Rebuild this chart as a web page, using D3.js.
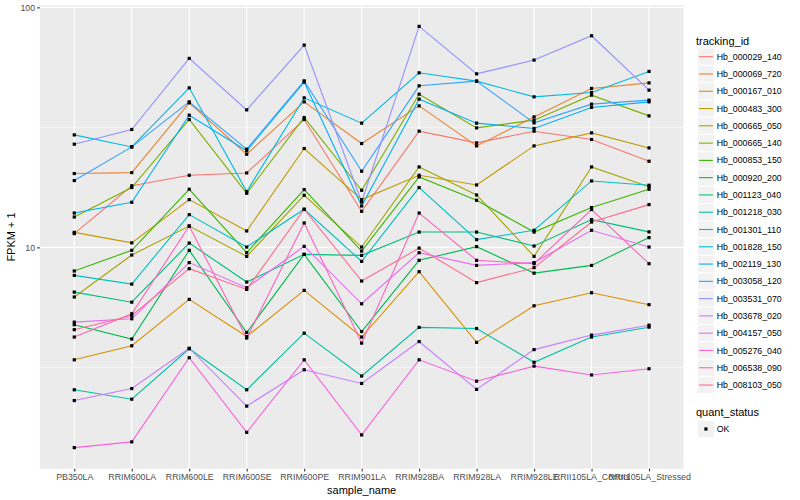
<!DOCTYPE html>
<html>
<head>
<meta charset="utf-8">
<script src="https://cdnjs.cloudflare.com/ajax/libs/d3/7.8.5/d3.min.js"></script>
<style>
  body { margin: 0; background: #fff; }
  text { font-family: "Liberation Sans", Arial, Helvetica, sans-serif; }
</style>
</head>
<body>
<div id="chart"></div>
<script>
// --- data (FPKM + 1) ---
const samples = ["PB350LA", "RRIM600LA", "RRIM600LE", "RRIM600SE", "RRIM600PE", "RRIM901LA",
  "RRIM928BA", "RRIM928LA", "RRIM928LE", "RRII105LA_Control", "RRII105LA_Stressed"];

const trackingIds = ["Hb_000029_140", "Hb_000069_720", "Hb_000167_010", "Hb_000483_300",
  "Hb_000665_050", "Hb_000665_140", "Hb_000853_150", "Hb_000920_200", "Hb_001123_040",
  "Hb_001218_030", "Hb_001301_110", "Hb_001828_150", "Hb_002119_130", "Hb_003058_120",
  "Hb_003531_070", "Hb_003678_020", "Hb_004157_050", "Hb_005276_040", "Hb_006538_090",
  "Hb_008103_050"];

const hb000029_140 = [11.41, 18.06, 19.97, 20.42, 34.10, 14.13, 30.48, 27.24, 30.48, 28.15, 22.85];
const hb000069_720 = [20.30, 20.49, 40.00, 24.43, 40.39, 27.08, 38.86, 26.47, 34.96, 45.93, 48.45];
const hb000167_010 = [3.40, 3.89, 6.07, 4.25, 6.62, 4.23, 7.92, 4.02, 5.71, 6.47, 5.77];
const hb000483_300 = [11.55, 10.44, 15.81, 11.70, 25.81, 15.81, 19.97, 18.20, 26.47, 29.99, 25.96];
const hb000665_050 = [6.21, 9.29, 12.27, 9.17, 16.48, 10.03, 21.63, 16.53, 9.17, 21.63, 17.88];
const hb000665_140 = [13.38, 17.75, 34.10, 16.80, 34.76, 17.29, 43.48, 31.46, 33.88, 43.07, 35.30];
const hb000853_150 = [7.97, 9.72, 17.46, 9.50, 17.41, 9.65, 19.65, 15.71, 11.58, 14.65, 17.46];
const hb000920_200 = [4.76, 4.15, 9.72, 4.42, 9.35, 4.46, 8.83, 10.07, 7.81, 8.41, 10.98];
const hb001123_040 = [6.51, 5.91, 10.42, 7.17, 9.35, 9.26, 11.58, 11.58, 10.13, 13.05, 11.60];
const hb001218_030 = [2.55, 2.33, 3.78, 2.55, 4.39, 2.91, 4.64, 4.59, 3.32, 4.23, 4.65];
const hb001301_110 = [7.64, 7.03, 13.69, 10.03, 14.41, 8.74, 17.75, 10.77, 11.78, 18.91, 18.15];
const hb001828_150 = [29.41, 26.21, 46.19, 17.08, 41.97, 32.92, 53.36, 49.27, 42.38, 44.19, 54.08];
const hb002119_130 = [13.90, 15.41, 35.54, 25.27, 48.80, 14.87, 41.45, 32.92, 31.28, 38.28, 40.39];
const hb003058_120 = [18.98, 26.21, 40.39, 25.64, 49.41, 20.76, 47.10, 49.27, 33.01, 39.50, 41.05];
const hb003531_070 = [26.90, 30.98, 61.28, 37.40, 69.62, 15.45, 83.32, 52.84, 60.29, 76.14, 45.19];
const hb003678_020 = [2.30, 2.58, 3.80, 2.18, 3.09, 2.71, 4.05, 2.56, 3.75, 4.31, 4.74];
const hb004157_050 = [4.88, 5.04, 8.64, 6.79, 10.10, 5.82, 9.50, 8.41, 8.64, 11.78, 10.03];
const hb005276_040 = [1.464, 1.547, 3.47, 1.696, 3.40, 1.654, 3.40, 2.77, 3.20, 2.94, 3.12];
const hb006538_090 = [4.23, 5.29, 12.27, 4.19, 12.64, 3.99, 13.90, 8.83, 8.55, 14.37, 8.55];
const hb008103_050 = [4.54, 5.20, 8.15, 6.68, 14.41, 7.24, 9.93, 7.13, 8.23, 12.75, 15.07];

const seriesValues = [hb000029_140, hb000069_720, hb000167_010, hb000483_300, hb000665_050,
  hb000665_140, hb000853_150, hb000920_200, hb001123_040, hb001218_030, hb001301_110,
  hb001828_150, hb002119_130, hb003058_120, hb003531_070, hb003678_020, hb004157_050,
  hb005276_040, hb006538_090, hb008103_050];

const yTicks = [10, 100];
const yMinor = [Math.sqrt(10), Math.sqrt(1000)];
const statusLevels = ["OK"];

// ggplot default hue palette for 20 levels
const palette = ["#F8766D", "#EA8331", "#D89000", "#C09B00", "#A3A500", "#7CAE00", "#39B600",
  "#00BB4E", "#00BF7D", "#00C1A3", "#00BFC4", "#00BAE0", "#00B0F6", "#35A2FF", "#9590FF",
  "#C77CFF", "#E76BF3", "#FA62DB", "#FF62BC", "#FF6C91"];

const width = 800, height = 500;
const panel = { left: 39.8, top: 5.3, right: 683.5, bottom: 468.7 };

const svg = d3.select("#chart").append("svg")
  .attr("width", width).attr("height", height);

const series = trackingIds.map((id, i) => ({
  id,
  points: samples.map((s, j) => ({ sample: s, value: seriesValues[i][j] }))
}));

const allValues = seriesValues.flat();
const [lo, hi] = d3.extent(allValues).map(Math.log10);
const pad = (hi - lo) * 0.05;

const x = d3.scalePoint().domain(samples).range([panel.left, panel.right]).padding(0.6);
const y = d3.scaleLog().domain([10 ** (lo - pad), 10 ** (hi + pad)]).range([panel.bottom, panel.top]);
const color = d3.scaleOrdinal().domain(trackingIds).range(palette);

// panel background + grid
svg.append("rect")
  .attr("x", panel.left).attr("y", panel.top)
  .attr("width", panel.right - panel.left).attr("height", panel.bottom - panel.top)
  .attr("fill", "#EBEBEB");

const grid = svg.append("g");
grid.selectAll("line.minor").data(yMinor).join("line")
  .attr("x1", panel.left).attr("x2", panel.right)
  .attr("y1", d => y(d)).attr("y2", d => y(d))
  .attr("stroke", "#fff").attr("stroke-width", 0.55);
grid.selectAll("line.major").data(yTicks).join("line")
  .attr("x1", panel.left).attr("x2", panel.right)
  .attr("y1", d => y(d)).attr("y2", d => y(d))
  .attr("stroke", "#fff").attr("stroke-width", 1.1);
grid.selectAll("line.vx").data(samples).join("line")
  .attr("x1", d => x(d)).attr("x2", d => x(d))
  .attr("y1", panel.top).attr("y2", panel.bottom)
  .attr("stroke", "#fff").attr("stroke-width", 1.1);

// lines
const line = d3.line().x(d => x(d.sample)).y(d => y(d.value));
svg.append("g").selectAll("path").data(series).join("path")
  .attr("d", d => line(d.points))
  .attr("fill", "none")
  .attr("stroke", d => color(d.id))
  .attr("stroke-width", 1.1);

// points
const ps = 3.2;
svg.append("g").selectAll("rect")
  .data(series.flatMap(d => d.points))
  .join("rect")
  .attr("x", d => x(d.sample) - ps / 2)
  .attr("y", d => y(d.value) - ps / 2)
  .attr("width", ps).attr("height", ps)
  .attr("fill", "#000");

// axes
const yAxis = svg.append("g")
  .attr("transform", `translate(${panel.left},0)`)
  .call(d3.axisLeft(y).tickValues(yTicks).tickFormat(d3.format("d")).tickSize(2.7).tickPadding(2));
const xAxis = svg.append("g")
  .attr("transform", `translate(0,${panel.bottom})`)
  .call(d3.axisBottom(x).tickSize(2.7).tickPadding(2));
[yAxis, xAxis].forEach(a => {
  a.select(".domain").remove();
  a.selectAll(".tick line").attr("stroke", "#333").attr("stroke-width", 1.1);
  a.selectAll(".tick text").attr("fill", "#4D4D4D").style("font-size", "8.8px")
    .style("font-family", '"Liberation Sans", Arial, sans-serif');
});

svg.append("text")
  .attr("x", (panel.left + panel.right) / 2).attr("y", 494)
  .attr("text-anchor", "middle").style("font-size", "11px").text("sample_name");
svg.append("text")
  .attr("transform", `translate(15,${(panel.top + panel.bottom) / 2}) rotate(-90)`)
  .attr("text-anchor", "middle").style("font-size", "11px").text("FPKM + 1");

// legend: tracking_id
const lx = 697.3, keyW = 17.28, step = 17.28, firstKey = 56.7;
const legend = svg.append("g");
legend.append("text").attr("x", 696).attr("y", 44.5)
  .style("font-size", "11px").text("tracking_id");
const keys = legend.selectAll("g.key").data(trackingIds).join("g")
  .attr("transform", (d, i) => `translate(${lx},${firstKey + i * step - step / 2})`);
keys.append("rect").attr("width", keyW).attr("height", step)
  .attr("fill", "#F2F2F2").attr("stroke", "#fff").attr("stroke-width", 1);
keys.append("line").attr("x1", 1.7).attr("x2", keyW - 1.7)
  .attr("y1", step / 2).attr("y2", step / 2)
  .attr("stroke", d => color(d)).attr("stroke-width", 1.1);
keys.append("text").attr("x", 716.7 - lx).attr("y", step / 2 + 3.1)
  .style("font-size", "8.8px").text(d => d);

// legend: quant_status
const qTop = 412.3;
legend.append("text").attr("x", 696).attr("y", qTop + 4)
  .style("font-size", "11px").text("quant_status");
const qKeys = legend.selectAll("g.qkey").data(statusLevels).join("g")
  .attr("transform", (d, i) => `translate(${lx},${429 + i * step - step / 2})`);
qKeys.append("rect").attr("width", keyW).attr("height", step)
  .attr("fill", "#F2F2F2").attr("stroke", "#fff").attr("stroke-width", 1);
qKeys.append("rect").attr("x", keyW / 2 - ps / 2).attr("y", step / 2 - ps / 2)
  .attr("width", ps).attr("height", ps).attr("fill", "#000");
qKeys.append("text").attr("x", 716.7 - lx).attr("y", step / 2 + 3.1)
  .style("font-size", "8.8px").text(d => d);
</script>
</body>
</html>
